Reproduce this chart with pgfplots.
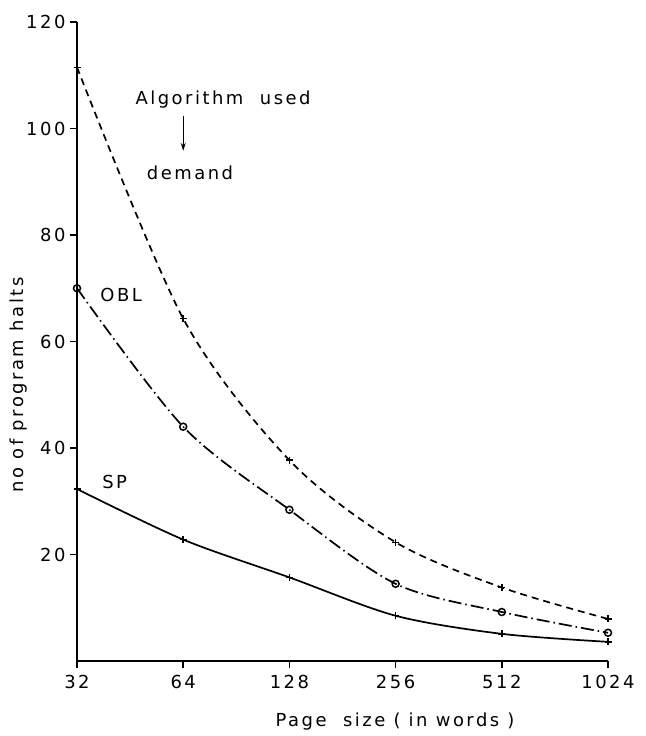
\documentclass[border=0pt]{standalone}
\usepackage{pgfplots}
\pgfplotsset{compat=1.18}
\usepackage{fontspec}
\setmainfont{DejaVu Sans}[LetterSpace=14]
\usetikzlibrary{arrows.meta}
\begin{document}
\begin{tikzpicture}
\begin{axis}[
  name=ax,
  scale only axis, width=531bp, height=639bp,
  xmode=log, log basis x=2, xmin=32, xmax=1024,
  ymin=0, ymax=120,
  axis x line*=bottom, axis y line*=left,
  axis line style={-, line width=1.8bp},
  xtick={32,64,128,256,512,1024},
  xticklabels={32,64,128,256,512,1024},
  ytick={20,40,60,80,100,120},
  yticklabels={20,40,60,80,100,120},
  tick align=outside, major tick length=7bp,
  tick style={line width=1.5bp, black},
  /pgf/number format/assume math mode=true,
  tick label style={font=\fontsize{18}{20}\selectfont},
  xticklabel style={yshift=-4bp},
  yticklabel style={xshift=-1bp},
  xlabel={Page\ \ size\ ( in words )},
  ylabel={no\ of\ program\ halts},
  label style={font=\fontsize{18}{20}\selectfont},
  xlabel style={at={(axis description cs:0.599,-0.095)}, anchor=center},
  ylabel style={at={(axis description cs:-0.111,0.432)}, anchor=center},
  clip=false,
]
\addplot[smooth, line width=1.7bp, dash pattern=on 7bp off 5bp,
  mark=+, mark size=3.5bp, mark options={solid, line width=1.5bp}]
  coordinates {(32,111.5) (64,64.3) (128,37.7) (256,22.3) (512,13.8) (1024,7.9)};
\addplot[smooth, line width=1.7bp, dash pattern=on 13bp off 4bp on 1.5bp off 4bp,
  mark=o, mark size=3.5bp, mark options={solid, line width=1.5bp}]
  coordinates {(32,70) (64,44) (128,28.4) (256,14.5) (512,9.2) (1024,5.3)};
\addplot[smooth, line width=1.7bp,
  mark=+, mark size=3.5bp, mark options={solid, line width=1.5bp}]
  coordinates {(32,32.3) (64,22.8) (128,15.7) (256,8.5) (512,5.1) (1024,3.6)};
\node[font=\fontsize{18}{20}\selectfont] at (axis cs:83,105.4) {Algorithm\ \ used};
\draw[-{Stealth[length=8bp,width=5bp]}, line width=1.3bp] (axis cs:64,102.4) -- (axis cs:64,95.8);
\node[font=\fontsize{18}{20}\selectfont] at (axis cs:66.9,91.6) {demand};
\node[font=\fontsize{18}{20}\selectfont] at (axis cs:42.7,68.7) {OBL};
\node[font=\fontsize{18}{20}\selectfont] at (axis cs:40.9,33.6) {SP};
\end{axis}
\pgfresetboundingbox
\path ([shift={(-77bp,-75bp)}]ax.south west) rectangle ([shift={(38bp,22bp)}]ax.north east);
\end{tikzpicture}
\end{document}
